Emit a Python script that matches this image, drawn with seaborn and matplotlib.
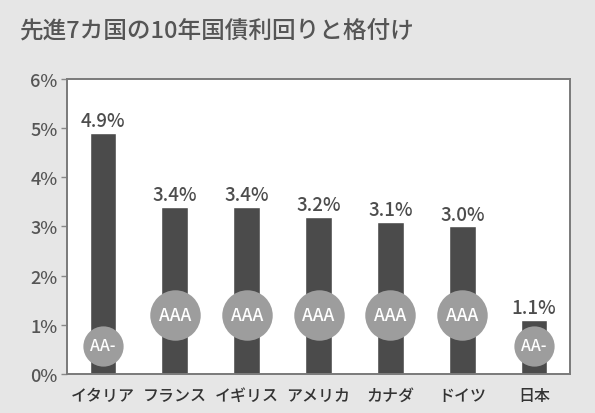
import pandas as pd
import seaborn as sns
import matplotlib.pyplot as plt
from matplotlib.ticker import FuncFormatter

countries = ['イタリア', 'フランス', 'イギリス', 'アメリカ', 'カナダ', 'ドイツ', '日本']
yields = [4.9, 3.4, 3.4, 3.2, 3.1, 3.0, 1.1]
ratings = ['AA-', 'AAA', 'AAA', 'AAA', 'AAA', 'AAA', 'AA-']

# where the rating badge sits and how big it is, per rating
badge_y = {'AAA': 1.2, 'AA-': 0.57}
badge_size = {'AAA': 1320, 'AA-': 840}
badge_font = {'AAA': 12.5, 'AA-': 11.5}

bg = '#e6e6e6'
bar_color = '#4b4b4b'
badge_color = '#9d9d9d'
text_color = '#4d4d4d'

sns.set_style('white')
plt.rcParams['font.family'] = ['Noto Sans CJK JP', 'DejaVu Sans']

df = pd.DataFrame({'country': countries, 'yield': yields, 'rating': ratings})

fig = plt.figure(figsize=(5.95, 4.14), dpi=100, facecolor=bg)
ax = fig.add_axes([0.1126, 0.0942, 0.8454, 0.7126])
ax.set_facecolor('white')

sns.barplot(data=df, x='country', y='yield', color=bar_color, width=0.37,
            saturation=1, ax=ax, zorder=2)

for i, row in df.iterrows():
    ax.annotate(f"{row['yield']:.1f}%", (i, row['yield']), xytext=(0, 2),
                textcoords='offset points', ha='center', va='bottom',
                fontsize=13.5, color=text_color, fontweight='medium')
    ax.scatter(i, badge_y[row['rating']], s=badge_size[row['rating']],
               color=badge_color, zorder=3, linewidths=0)
    ax.text(i, badge_y[row['rating']], row['rating'], ha='center', va='center',
            color='white', fontsize=badge_font[row['rating']],
            fontweight='medium', zorder=4)

ax.set_ylim(0, 6)
ax.set_xlim(-0.5, len(countries) - 0.5)
ax.set_yticks(range(0, 7))
ax.yaxis.set_major_formatter(FuncFormatter(lambda v, p: f'{int(v)}%'))
ax.set_xlabel('')
ax.set_ylabel('')
ax.tick_params(axis='y', left=True, length=4, width=1, color='#888888',
               labelsize=13, labelcolor='#555555', pad=3)
ax.tick_params(axis='x', bottom=False, labelsize=11.5, labelcolor='#333333', pad=6)
for lbl in ax.get_xticklabels() + ax.get_yticklabels():
    lbl.set_fontweight('medium')

for s in ax.spines.values():
    s.set_color('#7a7a7a')
    s.set_linewidth(1.4)

fig.text(0.034, 0.925, '先進7カ国の10年国債利回りと格付け', fontsize=17,
         color='#555555', ha='left', va='center', fontweight='medium')

fig.savefig('out.png', dpi=100, facecolor=bg)
